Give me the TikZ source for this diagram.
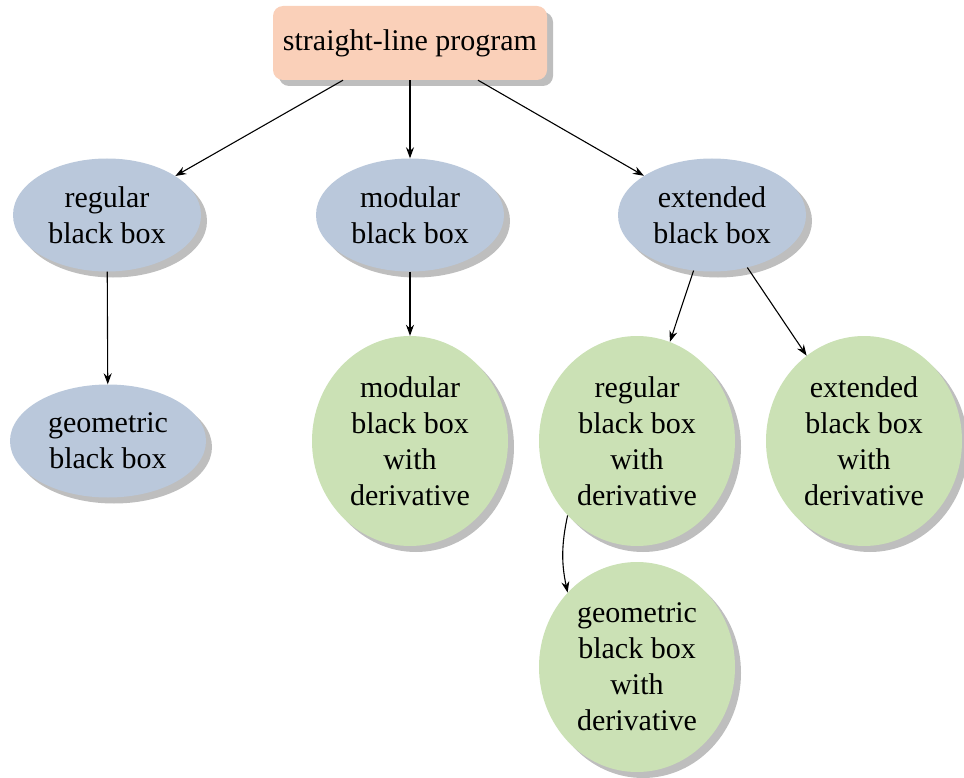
\documentclass[tikz,border=0pt]{standalone}
\usepackage{fontspec}
\setmainfont{Liberation Serif}
\usetikzlibrary{shapes.geometric,shadows,arrows.meta}
\definecolor{peach}{RGB}{250,208,185}
\definecolor{bluegray}{RGB}{186,200,219}
\definecolor{sage}{RGB}{203,225,181}
\definecolor{shade}{RGB}{190,190,190}
\begin{document}
\begin{tikzpicture}[x=1pt,y=-1pt,
  every node/.style={font=\fontsize{30}{36}\selectfont, align=center},
  shad/.style={drop shadow={shadow xshift=6pt, shadow yshift=-6pt, fill=shade, opacity=1}},
  topbox/.style={rectangle, rounded corners=10pt, fill=peach, minimum width=274pt, minimum height=74pt, shad},
  blueell/.style={ellipse, fill=bluegray, minimum width=188pt, minimum height=113pt, inner sep=0pt, shad},
  greenell/.style={ellipse, fill=sage, minimum width=196pt, minimum height=210pt, inner sep=0pt, shad},
  arr/.style={-{Stealth[length=11pt,width=8pt]}, line width=1.1pt}]
\useasboundingbox (0,0) rectangle (964,778);
\node[topbox] (top) at (410,43) {straight-line program};
\node[blueell] (reg) at (107,215) {regular\\black box};
\node[blueell] (mod) at (410,215) {modular\\black box};
\node[blueell] (ext) at (712,215) {extended\\black box};
\node[blueell, minimum width=196pt] (geo) at (108,441) {geometric\\black box};
\node[greenell] (moddv) at (410,441) {modular\\black box\\with\\derivative};
\node[greenell] (regdv) at (637,441) {regular\\black box\\with\\derivative};
\node[greenell] (extdv) at (864,441) {extended\\black box\\with\\derivative};
\node[greenell] (geodv) at (637,667) {geometric\\black box\\with\\derivative};
\draw[arr] ([xshift=-67pt]top.south) -- (reg);
\draw[arr] (top.south) -- (mod);
\draw[arr] ([xshift=68pt]top.south) -- (ext);
\draw[arr] (reg) -- (geo);
\draw[arr] (mod) -- (moddv);
\draw[arr] (ext) -- (regdv);
\draw[arr] (ext) -- (extdv);
\draw[arr] (regdv.227) to[bend right=12] (geodv.133);
\end{tikzpicture}
\end{document}
